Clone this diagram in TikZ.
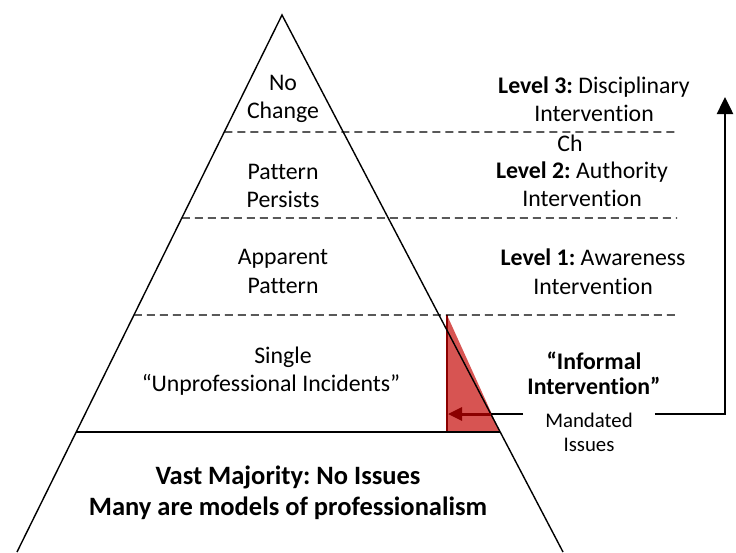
\documentclass[tikz,border=0pt]{standalone}
\usepackage{fontspec}
\setmainfont{Carlito}[Ligatures={NoCommon}]
\frenchspacing
\usetikzlibrary{arrows.meta,calc}
\definecolor{redfill}{RGB}{215,84,82}
\definecolor{darkred}{RGB}{139,0,0}
\begin{document}
\begin{tikzpicture}[x=1pt,y=-1pt,
  side/.style={line width=1.4pt,black},
  dashline/.style={line width=1.4pt,dash pattern=on 8pt off 5pt},
  lbl/.style={align=center,inner sep=0pt,font=\fontsize{23.8}{28.5}\selectfont},
  bigl/.style={align=center,inner sep=0pt,font=\fontsize{26.5}{31}\selectfont\bfseries},
  mandl/.style={align=center,inner ysep=0pt,inner xsep=22pt,font=\fontsize{20.8}{24}\selectfont},
  uparrow/.style={line width=2.5pt,-{Triangle[length=17pt,width=16pt]}},
  redarrow/.style={line width=3pt,darkred,-{Triangle[length=14pt,width=13pt]}}]
\useasboundingbox (0,0) rectangle (736,552);
% triangle frame
\coordinate (apex) at (282,15);
\coordinate (bl) at (17,552);
\coordinate (br) at (563,552);
% red marker
\coordinate (redtop) at (447,315);
\coordinate (redbot) at (447,432);
\coordinate (redcorner) at (500,432);
\fill[redfill] (redtop) -- (redbot) -- (redcorner) -- cycle;
\draw[darkred,line width=1.2pt] (redtop) -- (redbot);
% sides
\draw[side] (bl) -- (apex) -- (br);
% level lines
\foreach \t/\n in {0.2179/a,0.3780/b,0.5587/c}{
  \coordinate (L\n) at ($(apex)!\t!(bl)$);
}
\coordinate (Ra) at (677,132);
\coordinate (Rb) at (677,218);
\coordinate (Rc) at (677,315);
\draw[dashline] (La) -- (Ra);
\draw[dashline] (Lb) -- (Rb);
\draw[dashline] (Lc) -- (Rc);
\coordinate (Ld) at ($(apex)!0.7765!(bl)$);
\coordinate (Rd) at ($(apex)!0.7765!(br)$);
\draw[line width=2pt] (Ld) -- (Rd);
% left texts
\node[lbl] (nochange) at (283,99) {No\\Change};
\node[lbl] (persists) at (283,186) {Pattern\\Persists};
\node[lbl] (apparent) at (283,271.5) {Apparent\\Pattern};
\node[lbl] (single) at (271,371) {\hspace*{24pt}Single\\“Unprofessional Incidents”};
\node[bigl] (vast) at (288,493) {Vast Majority: No Issues\\Many are models of professionalism};
% right texts
\node[lbl] (lev3) at (594,99) {\textbf{Level 3:} Disciplinary\\Intervention};
\node[lbl] (ch) at (570,143) {Ch};
\node[lbl] (lev2) at (582,184) {\textbf{Level 2:} Authority\\Intervention};
\node[lbl] (lev1) at (593,271.5) {\textbf{Level 1:} Awareness\\Intervention};
\node[lbl,font=\fontsize{23.8}{25}\selectfont\bfseries] (informal) at (594,373) {“Informal\\Intervention”};
\node[mandl] (mand) at (589,432) {Mandated\\Issues};
% connectors
\coordinate (hy) at (0,414);
\coordinate (top) at (725,97);
\coordinate (cross) at ($(apex)!0.7430!(br)$);
\draw[uparrow] (mand.east |- hy) -| (top);
\draw[line width=2.5pt] (mand.west |- hy) -- (cross |- hy);
\draw[redarrow] (cross |- hy) -- ([xshift=1pt]redbot |- hy);
\end{tikzpicture}
\end{document}
